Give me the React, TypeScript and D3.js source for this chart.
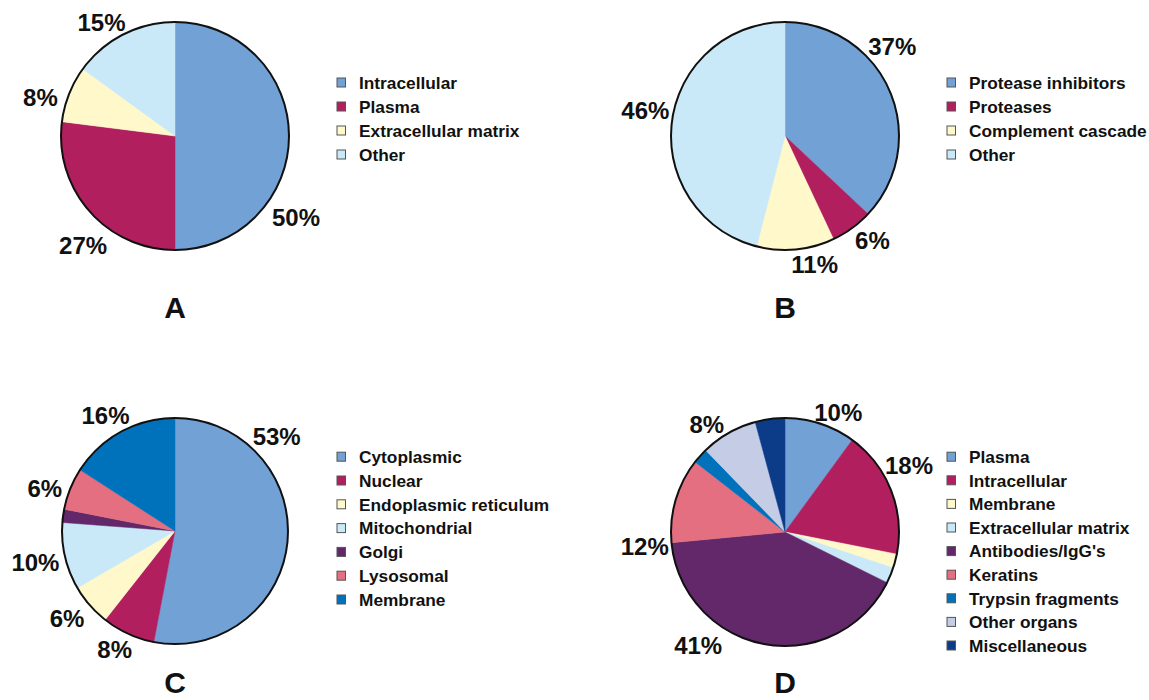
import React from "react";
import * as d3 from "d3";

// ---- data ----
const catsA = ["Intracellular", "Plasma", "Extracellular matrix", "Other"];
const valsA = [50, 27, 8, 15];
const labelsA = ["50%", "27%", "8%", "15%"];

const catsB = ["Protease inhibitors", "Proteases", "Complement cascade", "Other"];
const valsB = [37, 6, 11, 46];
const labelsB = ["37%", "6%", "11%", "46%"];

const catsC = ["Cytoplasmic", "Nuclear", "Endoplasmic reticulum", "Mitochondrial", "Golgi", "Lysosomal", "Membrane"];
const valsC = [53, 7.6, 6, 9.6, 1.9, 6, 15.9];
const labelsC = ["53%", "8%", "6%", "10%", "", "6%", "16%"];

const catsD = ["Plasma", "Intracellular", "Membrane", "Extracellular matrix", "Antibodies/IgG's", "Keratins", "Trypsin fragments", "Other organs", "Miscellaneous"];
const valsD = [10, 18, 2, 2.2, 41, 12, 2.2, 8, 4.2];
const labelsD = ["10%", "18%", "", "", "41%", "12%", "", "8%", ""];

const panelLetters = ["A", "B", "C", "D"];

// ---- styles / layout ----
const BLUE = "#72A1D6";
const MAGENTA = "#B11F5E";
const PALEYELLOW = "#FFF8CB";
const LIGHTBLUE = "#C9E9F8";
const PURPLE = "#62286A";
const PINK = "#E36F80";
const MEMBLUE = "#0072BC";
const LAVENDER = "#C4CCE6";
const NAVY = "#0C3C88";

const colorsA = [BLUE, MAGENTA, PALEYELLOW, LIGHTBLUE];
const colorsB = [BLUE, MAGENTA, PALEYELLOW, LIGHTBLUE];
const colorsC = [BLUE, MAGENTA, PALEYELLOW, LIGHTBLUE, PURPLE, PINK, MEMBLUE];
const colorsD = [BLUE, MAGENTA, PALEYELLOW, LIGHTBLUE, PURPLE, PINK, MEMBLUE, LAVENDER, NAVY];

// label placement: polar (degrees clockwise from top, distance from centre)
const labelPolarA = [[124, 146], [220, 143], [286, 140], [327, 135]];
const labelPolarB = [[50, 140], [140, 136], [167, 132], [280.5, 142]];
const labelPolarC = [[47, 139], [207, 133], [231, 139], [257.5, 143], [0, 0], [288, 137], [329, 135]];
const labelPolarD = [[24, 131], [61.6, 141], [0, 0], [0, 0], [217.4, 143], [264, 141], [0, 0], [324, 133], [0, 0]];

const FONT = "'Liberation Sans', Arial, Helvetica, sans-serif";

type PanelProps = {
  cx: number; cy: number; r: number;
  cats: string[]; vals: number[]; labels: string[]; colors: string[];
  labelPolar: number[][];
  legendX: number; legendY: number; legendStep: number;
  letter: string; letterY: number;
};

function Panel(p: PanelProps) {
  const pie = d3.pie<number>().sort(null).value((d) => d);
  const arcs = pie(p.vals);
  const arc = d3.arc<d3.PieArcDatum<number>>().innerRadius(0).outerRadius(p.r);
  return (
    <g>
      <g transform={`translate(${p.cx},${p.cy})`}>
        {arcs.map((a, i) => (
          <path key={i} d={arc(a) || ""} fill={p.colors[i]} stroke={p.colors[i]} strokeWidth={0.5} />
        ))}
        <circle r={p.r} fill="none" stroke="#111" strokeWidth={2} />
        {p.labels.map((lab, i) => {
          if (!lab) return null;
          const [deg, dist] = p.labelPolar[i];
          const t = (deg * Math.PI) / 180;
          const x = Math.sin(t) * dist;
          const y = -Math.cos(t) * dist;
          return (
            <text key={i} x={x} y={y} dy="0.36em" textAnchor="middle"
              fontFamily={FONT} fontWeight="bold" fontSize={24} fill="#111">
              {lab}
            </text>
          );
        })}
      </g>
      <g>
        {p.cats.map((c, i) => {
          const y = p.legendY + i * p.legendStep;
          return (
            <g key={i}>
              <rect x={p.legendX} y={y - 4.5} width={8.5} height={9} fill={p.colors[i]} stroke="#555" strokeWidth={1} />
              <text x={p.legendX + 22} y={y} dy="0.36em" fontFamily={FONT}
                fontWeight="bold" fontSize={17.3} fill="#111">
                {c}
              </text>
            </g>
          );
        })}
      </g>
      <text x={p.cx} y={p.letterY} textAnchor="middle" fontFamily={FONT}
        fontWeight="bold" fontSize={30} fill="#111">
        {p.letter}
      </text>
    </g>
  );
}

export default function App() {
  return (
    <svg width={1149} height={700} style={{ position: "absolute", left: 0, top: 0, background: "#fff" }}>
      <rect width={1149} height={700} fill="#fff" />
      <Panel cx={175} cy={136} r={114} cats={catsA} vals={valsA} labels={labelsA} colors={colorsA}
        labelPolar={labelPolarA} legendX={337} legendY={82.5} legendStep={24} letter={panelLetters[0]} letterY={318} />
      <Panel cx={785} cy={136} r={114} cats={catsB} vals={valsB} labels={labelsB} colors={colorsB}
        labelPolar={labelPolarB} legendX={947} legendY={82.5} legendStep={24} letter={panelLetters[1]} letterY={318} />
      <Panel cx={175} cy={531} r={113} cats={catsC} vals={valsC} labels={labelsC} colors={colorsC}
        labelPolar={labelPolarC} legendX={337} legendY={456.7} legendStep={23.8} letter={panelLetters[2]} letterY={693} />
      <Panel cx={785} cy={532} r={114} cats={catsD} vals={valsD} labels={labelsD} colors={colorsD}
        labelPolar={labelPolarD} legendX={947} legendY={456.7} legendStep={23.6} letter={panelLetters[3]} letterY={693} />
    </svg>
  );
}
